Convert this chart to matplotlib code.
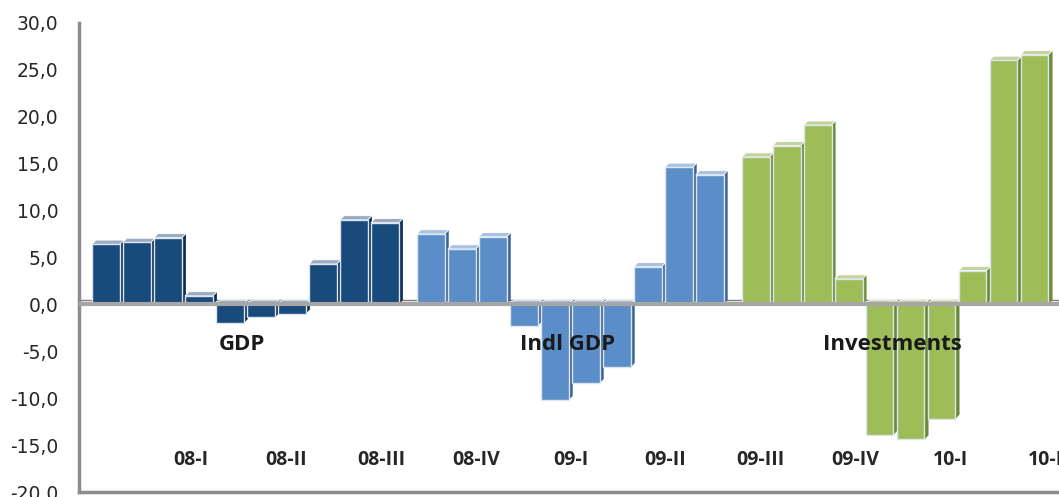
import matplotlib
matplotlib.use("Agg")
import matplotlib.pyplot as plt
from matplotlib.patches import Polygon
import numpy as np

plt.rcParams['font.family'] = ['Open Sans', 'DejaVu Sans']

# values, 10 per series
gdp = [6.4, 6.6, 7.1, 0.9, -2.0, -1.4, -1.0, 4.3, 9.0, 8.7]
indl_gdp = [7.5, 5.9, 7.2, -2.3, -10.2, -8.4, -6.7, 4.0, 14.6, 13.8]
investments = [15.7, 16.9, 19.1, 2.7, -13.9, -14.4, -12.2, 3.6, 26.0, 26.6]

series_names = ['GDP', 'Indl GDP', 'Investments']
quarters = ['08-I', '08-II', '08-III', '08-IV', '09-I', '09-II',
            '09-III', '09-IV', '10-I', '10-I']

front_cols = ['#184a7c', '#5b8ec8', '#9ebd58']
top_cols = ['#9aabc2', '#a9c2e2', '#c3d4a0']
side_cols = ['#0f2e52', '#3a6496', '#6a8a35']

w = 0.9      # front face width
dx = 0.13    # 3d depth, x
dy = 0.45    # 3d depth, y
gap = 0.48   # extra space between series

fig = plt.figure(figsize=(10.59, 4.97), dpi=100)
ax = fig.add_axes([0.0746, 0.010, 0.9254, 0.944])

ax.axhline(dy, color='#7f7f7f', lw=1, zorder=1)

z = 2
centres = []
for g, vals in enumerate([gdp, indl_gdp, investments]):
    xs = np.arange(len(vals)) + g * len(vals) + g * gap
    centres.append(xs.mean())
    for x, v in zip(xs, vals):
        y0, y1 = min(0, v), max(0, v)
        l, r = x - w / 2, x + w / 2
        side = Polygon([(r, y0), (r + dx, y0 + dy), (r + dx, y1 + dy), (r, y1)],
                       closed=True, fc=side_cols[g], ec='none', zorder=z)
        top = Polygon([(l, y1), (r, y1), (r + dx, y1 + dy), (l + dx, y1 + dy)],
                      closed=True, fc=top_cols[g], ec='white', lw=0.6, zorder=z)
        ax.add_patch(side)
        ax.add_patch(top)
        ax.bar(x, v, width=w, color=front_cols[g], edgecolor='#dde5ef',
               linewidth=1.0, zorder=z + 1)
        z += 2

ax.axhline(0, color='#a6a6a6', lw=3, zorder=200)

for name, c in zip(series_names, centres):
    ax.text(c - 0.1, -4.25, name, ha='center', va='center', fontsize=16,
            fontweight='bold', color='#1a1a1a', zorder=300)

label_x = np.linspace(2.75, 30.3, len(quarters))
for lx, q in zip(label_x, quarters):
    ax.text(lx, -16.6, q, ha='center', va='center', fontsize=14,
            fontweight='bold', color='#262626', zorder=300)

ax.set_xlim(-0.87, 30.75)
ax.set_ylim(-20, 30)
ax.set_yticks(np.arange(-20, 31, 5))
ax.set_yticklabels([f'{t:.1f}'.replace('.', ',') for t in np.arange(-20, 31, 5)],
                   family='DejaVu Sans')
ax.tick_params(axis='y', length=0, pad=15, labelsize=13.5, labelcolor='#262626')
ax.set_xticks([])
for s in ['top', 'right']:
    ax.spines[s].set_visible(False)
for s in ['left', 'bottom']:
    ax.spines[s].set_color('#8c8c8c')
    ax.spines[s].set_linewidth(2.5)

fig.savefig('out.png', dpi=100)
